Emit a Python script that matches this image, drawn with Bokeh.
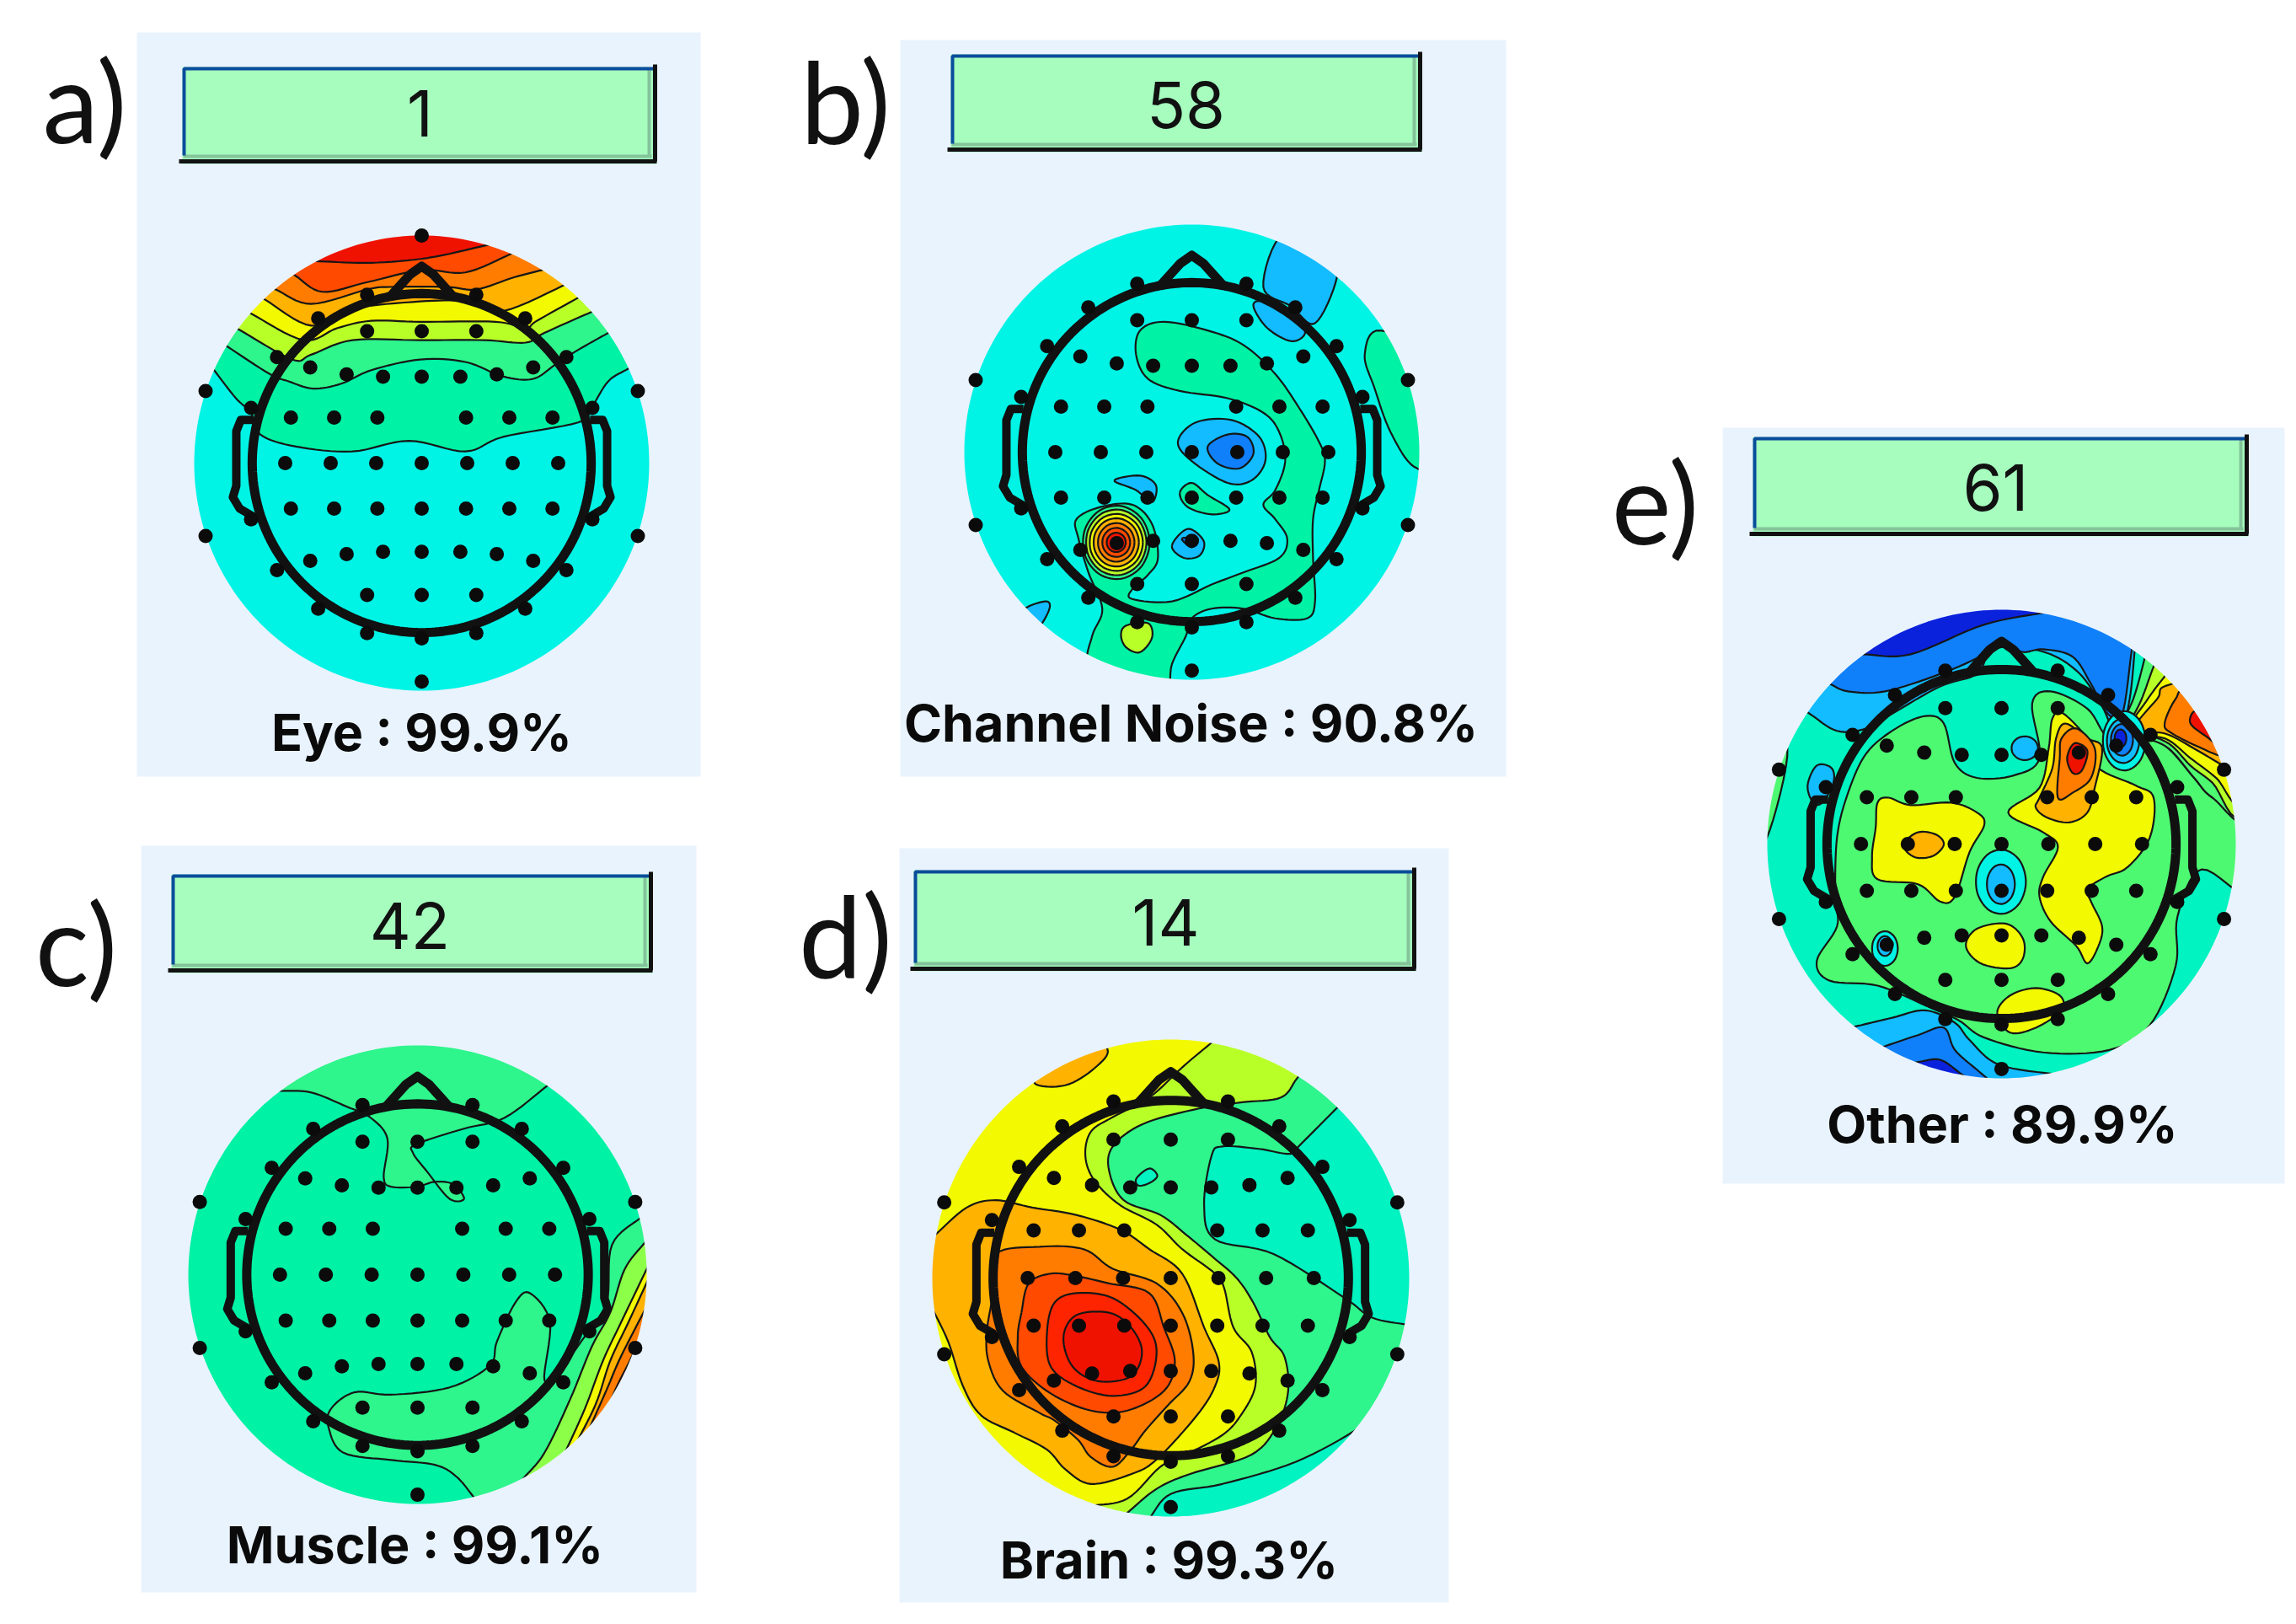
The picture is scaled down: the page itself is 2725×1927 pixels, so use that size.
import numpy as np
from bokeh.embed import file_html
from bokeh.models import Label, Range1d
from bokeh.plotting import figure
from bokeh.resources import INLINE

LETTERS = ["a)", "b)", "c)", "d)", "e)"]
COMPONENTS = ["1", "58", "42", "14", "61"]
CLASSES = ["Eye", "Channel Noise", "Muscle", "Brain", "Other"]
PERCENTS = [99.9, 90.8, 99.1, 99.3, 89.9]

COL = dict(db="#0a22dc", b2="#0a55ee", b="#0f80fa", sb="#12bcff", c="#00f4e6", c2="#00f3c0",
           ag="#00f2a4", g="#2ef58c", g3="#4ef972", lg="#8cff48", l="#b8ff28", y="#f2f900",
           o="#ffb200", do="#ff7c00", ro="#ff4a00", r2="#ff2400", r="#f01200", dr="#a80000")

# geometry: panel box, map centre and radius, button box, number and label anchors, reading frame
PANEL_BOX = [(162, 831, 38, 921), (1068, 1787, 47, 921), (167, 826, 1003, 1889), (1067, 1719, 1006, 1901), (2044, 2711, 507, 1404)]
MAP_C = [(500, 549, 270), (1414, 536, 270), (495, 1512, 272), (1389, 1516, 283), (2375, 1001, 278)]
BTN_BOX = [(216, 779, 79, 194), (1128, 1687, 64, 180), (203, 774, 1037, 1154), (1084, 1680, 1032, 1152), (2080, 2668, 518, 636)]
NUM_XY = [(498, 134), (1407, 124), (486, 1098), (1383, 1094), (2368, 578)]
LBL_XY = [(500, 868), (1413, 857), (492, 1832), (1387, 1850), (2376, 1333)]
LET_XY = [(100, 118), (1003, 118), (90, 1118), (1003, 1108), (1964, 594)]
FRAME = [(150, 30, 2.24, 1.742), (1060, 30, 2.119, 1.742), (160, 1000, 2.306, 1.742), (1060, 1000, 2.306, 1.723), (2040, 500, 2.289, 1.704)]

# electrodes, in map radii
ELEC_X = [-.95, .95, -.95, .95, 0, -.24, .24, -.455, .455, -.636, .636, -.75, .75, -.75, .75, -.636, .636, -.455, .455, -.24, .24, 0,
          -.24, 0, .24, -.49, -.33, -.17, 0, .17, .33, .49, -.575, -.385, -.195, .195, .385, .575,
          -.60, -.40, -.20, 0, .20, .40, .60, -.575, -.385, -.195, 0, .195, .385, .575,
          -.49, -.33, -.17, 0, .17, .33, .49, -.24, 0, .24]
ELEC_Y = [.317, .317, -.32, -.32, -.96, .74, .74, .636, .636, .466, .466, .243, .243, -.247, -.247, -.47, -.47, -.64, -.64, -.747, -.747, -.77,
          .58, .58, .58, .42, .39, .38, .38, .38, .39, .42, .20, .20, .20, .20, .20, .20,
          0, 0, 0, 0, 0, 0, 0, -.20, -.20, -.20, -.20, -.20, -.20, -.20,
          -.43, -.40, -.39, -.39, -.39, -.40, -.43, -.58, -.58, -.58]
NOSE_X = [-.14, -.05, 0, .05, .14]
NOSE_Y = [.73, .83, .865, .83, .73]
EAR_X = [.74, .795, .815, .815, .83, .80, .74]
EAR_Y = [.19, .19, .14, -.10, -.15, -.20, -.235]
HEAD_R = .745

T = [(5000, -5000), (-5000, -5000)]
B = [(5000, 5000), (-5000, 5000)]


def ell(cx, cy, rx, ry):
    return [(cx + rx * np.cos(a), cy + ry * np.sin(a)) for a in np.linspace(0, 2 * np.pi, 10)[:-1]]


# contour bands: (colour, outline, closure outside the map or None)
BASE = ["c", "c", "ag", "g", "c2"]
REG_A = [
    ("ag", [(232, 712), (290, 770), (330, 800), (355, 845), (450, 870), (600, 880), (750, 858), (900, 880), (1000, 850), (1200, 820), (1235, 790), (1280, 735), (1335, 708)], T),
    ("g", [(265, 662), (380, 720), (430, 735), (495, 750), (570, 740), (650, 712), (780, 690), (900, 695), (1000, 725), (1080, 730), (1140, 700), (1200, 670), (1280, 635)], T),
    ("l", [(298, 628), (440, 690), (490, 680), (600, 650), (780, 650), (950, 650), (1060, 655), (1110, 635), (1240, 590)], T),
    ("y", [(330, 595), (470, 650), (560, 625), (650, 610), (780, 612), (980, 612), (1060, 625), (1090, 610), (1205, 560)], T),
    ("o", [(365, 565), (490, 620), (600, 585), (780, 570), (900, 570), (1000, 590), (1180, 530)], T),
    ("do", [(395, 545), (490, 575), (640, 545), (700, 540), (850, 540), (930, 545), (1030, 520), (1130, 500)], T),
    ("ro", [(445, 515), (520, 550), (640, 530), (785, 505), (900, 510), (1020, 472), (1075, 450)], T),
    ("r", [(515, 487), (650, 490), (800, 480), (950, 455)], T),
]
REG_B = [
    ("sb", [(980, 430), (930, 540), (1000, 580), (1060, 615), (1115, 520), (1100, 450)], None),
    ("sb", [(905, 580), (930, 570), (1010, 600), (1035, 635), (1000, 652), (940, 625)], None),
    ("ag", [(1225, 630), (1185, 680), (1210, 750), (1250, 840), (1310, 912), (1380, 900), (1380, 700)], None),
    ("ag", [(610, 680), (620, 630), (680, 612), (790, 630), (880, 660), (960, 720), (1020, 790), (1070, 860), (1085, 900), (1070, 960), (1055, 1020), (1055, 1100), (1060, 1190), (1040, 1225), (960, 1225), (880, 1205), (800, 1205), (750, 1225), (735, 1262), (700, 1320), (680, 1390), (560, 1360), (490, 1320), (500, 1260), (525, 1205), (490, 1130), (465, 1060), (460, 1020), (520, 995), (600, 990), (650, 1030), (665, 1100), (640, 1135), (600, 1165), (600, 1185), (700, 1190), (800, 1155), (880, 1130), (970, 1100), (990, 1060), (960, 1020), (930, 990), (960, 960), (985, 900), (970, 840), (930, 800), (840, 770), (720, 755), (640, 730)], None),
    ("l", [(585, 1240), (640, 1235), (650, 1265), (620, 1295), (585, 1285), (572, 1260)], None),
    ("ag", [(720, 965), (750, 945), (790, 970), (845, 1000), (800, 1010), (740, 995)], None),
    ("sb", [(715, 860), (760, 820), (850, 815), (920, 850), (935, 900), (900, 940), (840, 945), (750, 900)], None),
    ("b", [(790, 870), (840, 845), (890, 850), (905, 885), (870, 915), (815, 905)], None),
    ("sb", [(555, 940), (620, 930), (660, 950), (650, 985), (610, 960)], None),
    ("sb", [(700, 1075), (740, 1040), (780, 1065), (770, 1095), (730, 1100)], None),
    ("b", [(725, 1060), (765, 1060), (750, 1078)], None),
    ("sb", [(330, 1205), (385, 1190), (390, 1210), (355, 1250), (300, 1240)], None),
    ("g", ell(560, 1068, 84, 76), None),
    ("l", ell(560, 1068, 76, 68), None),
    ("y", ell(560, 1068, 67, 59), None),
    ("o", ell(560, 1068, 57, 50), None),
    ("do", ell(560, 1068, 46, 40), None),
    ("ro", ell(560, 1068, 35, 30), None),
    ("r", ell(560, 1068, 24, 20), None),
    ("dr", ell(560, 1068, 12, 10), None),
]
BR = [(3000, 3000)]
REG_C = [
    ("g", [(385, 512), (480, 515), (580, 545), (640, 565), (690, 610), (680, 690), (700, 710), (770, 710), (820, 700), (870, 705), (900, 735), (860, 735), (800, 680), (760, 640), (770, 622), (900, 590), (1010, 568), (1130, 500)], T),
    ("g", [(930, 1355), (880, 1310), (820, 1285), (700, 1275), (570, 1260), (530, 1210), (535, 1170), (600, 1135), (700, 1140), (860, 1125), (970, 1080), (990, 1030), (1040, 950), (1080, 930), (1135, 990), (1120, 1110), (1170, 1080), (1230, 1020), (1290, 950), (1305, 830), (1390, 770)], [(3000, 770), (3000, 3000), (930, 3000)]),
    ("lg", [(1060, 1315), (1120, 1260), (1190, 1150), (1250, 1040), (1300, 970), (1340, 880), (1395, 825)], BR),
    ("y", [(1170, 1270), (1230, 1170), (1280, 1070), (1330, 990), (1400, 880)], BR),
    ("o", [(1200, 1250), (1260, 1160), (1300, 1070), (1350, 990), (1405, 900)], BR),
    ("do", [(1240, 1215), (1290, 1130), (1330, 1060), (1405, 950)], BR),
    ("ro", [(1280, 1190), (1320, 1120), (1360, 1060), (1405, 980)], BR),
    ("r", [(1340, 1110), (1370, 1060), (1400, 1010)], BR),
]
REG_D = [
    ("l", [(1105, 480), (1060, 520), (950, 530), (820, 545), (680, 575), (600, 620), (590, 670), (630, 730), (730, 760), (800, 800), (880, 850), (940, 890), (985, 940), (1030, 1010), (1070, 1050), (1080, 1120), (1050, 1190), (980, 1250), (810, 1290), (720, 1320), (635, 1372)], [(-3000, 3000), (-3000, -3000), (1200, -3000)]),
    ("y", [(875, 405), (795, 455), (700, 520), (600, 560), (540, 590), (525, 640), (550, 690), (620, 740), (720, 780), (790, 830), (880, 880), (905, 910), (930, 990), (980, 1040), (990, 1110), (950, 1170), (900, 1210), (800, 1250), (730, 1275), (640, 1340), (540, 1355)], [(-3000, 3000), (-3000, -3000), (875, -3000)]),
    ("o", [(385, 490), (470, 495), (550, 460), (585, 420), (500, 380), (420, 440)], None),
    ("o", [(108, 805), (200, 745), (280, 730), (380, 745), (500, 760), (620, 790), (700, 830), (790, 880), (850, 990), (890, 1060), (880, 1110), (830, 1170), (720, 1260), (650, 1290), (540, 1310), (470, 1280), (420, 1240), (330, 1205), (240, 1170), (190, 1110), (150, 1020), (105, 950)], [(-3000, 950), (-3000, 805)]),
    ("do", [(280, 840), (400, 825), (520, 830), (600, 870), (720, 900), (790, 960), (820, 1040), (810, 1100), (750, 1150), (690, 1200), (650, 1240), (600, 1275), (540, 1255), (505, 1220), (440, 1180), (400, 1165), (300, 1120), (260, 1060), (255, 1000), (272, 920)], None),
    ("ro", [(350, 960), (370, 900), (430, 880), (500, 885), (590, 900), (700, 920), (740, 990), (770, 1060), (740, 1120), (640, 1160), (540, 1160), (430, 1125), (350, 1070), (340, 1010)], None),
    ("r2", [(420, 1000), (440, 940), (500, 920), (600, 930), (690, 985), (720, 1040), (690, 1110), (600, 1130), (500, 1110), (430, 1070)], None),
    ("r", [(465, 1010), (500, 965), (590, 960), (650, 990), (680, 1040), (650, 1090), (560, 1100), (490, 1070)], None),
    ("c2", [(665, 685), (700, 665), (722, 680), (700, 695), (670, 700)], None),
    ("c2", [(1215, 540), (1115, 615), (1085, 635), (1000, 625), (900, 620), (870, 640), (850, 740), (880, 810), (1040, 840), (1235, 930), (1310, 970), (1410, 985)], [(3000, 985), (3000, -3000), (1400, -3000)]),
    ("c2", [(700, 1380), (760, 1330), (900, 1310), (1100, 1265), (1275, 1195), (1330, 1150)], [(3000, 1150), (3000, 3000), (700, 3000)]),
]
REG_E = [
    ("g3", [(640, 690), (610, 610), (560, 595), (480, 620), (400, 670), (350, 750), (320, 840), (315, 960), (320, 1020), (265, 1090), (300, 1130), (430, 1140), (560, 1180), (650, 1210), (720, 1245), (880, 1275), (1060, 1270), (1170, 1220), (1240, 1100), (1245, 1000), (1310, 905), (1450, 960), (1450, 800), (1340, 760), (1290, 720), (1220, 660), (1150, 630), (1060, 640), (1000, 580), (900, 545), (850, 570), (870, 680), (800, 715), (700, 720)], None),
    ("g3", [(130, 840), (185, 660), (100, 640), (80, 840)], None),
    ("sb", [(240, 735), (265, 695), (305, 700), (310, 730), (280, 770), (255, 770)], None),
    ("sb", [(245, 590), (320, 625), (400, 620), (470, 590), (600, 535), (700, 510), (735, 465), (800, 455), (900, 470), (980, 510), (1040, 575), (1085, 640), (1115, 560), (1130, 450)], T),
    ("b", [(300, 530), (350, 545), (450, 545), (600, 510), (720, 470), (760, 440), (820, 465), (880, 460), (960, 475), (1010, 530), (1055, 590), (1095, 590), (1120, 465)], T),
    ("db", [(390, 470), (520, 470), (720, 410), (890, 385)], T),
    ("g3", [(1080, 640), (1125, 560), (1155, 480), (1165, 440), (1500, 500), (1450, 800), (1340, 760), (1290, 720), (1220, 660), (1150, 640)], None),
    ("l", [(1095, 640), (1145, 565), (1180, 495), (1200, 470), (1500, 500), (1420, 790), (1340, 730), (1280, 695), (1220, 650), (1140, 630)], None),
    ("y", [(1110, 630), (1160, 565), (1210, 515), (1240, 490), (1500, 600), (1420, 770), (1350, 720), (1280, 680), (1210, 640)], None),
    ("o", [(1125, 625), (1190, 560), (1230, 530), (1500, 500), (1500, 750), (1380, 700), (1300, 665), (1210, 630)], None),
    ("do", [(1210, 610), (1240, 560), (1280, 540), (1500, 540), (1500, 700), (1380, 680), (1310, 660), (1230, 630)], None),
    ("r", [(1280, 610), (1295, 585), (1340, 620), (1365, 660), (1330, 640)], None),
    ("c", ell(1100, 645, 58, 60), None),
    ("sb", ell(1097, 645, 44, 45), None),
    ("b", ell(1094, 643, 30, 32), None),
    ("db", ell(1090, 640, 16, 18), None),
    ("sb", ell(830, 660, 36, 24), None),
    ("y", [(430, 770), (460, 760), (520, 775), (630, 770), (700, 790), (720, 815), (680, 870), (640, 960), (600, 970), (540, 935), (430, 925), (415, 880), (425, 820)], None),
    ("o", [(500, 855), (540, 830), (590, 835), (610, 855), (580, 878), (530, 880)], None),
    ("y", [(905, 600), (935, 590), (1010, 650), (1030, 700), (1130, 735), (1180, 760), (1170, 840), (1110, 900), (1050, 920), (1000, 945), (1010, 970), (1040, 1020), (1030, 1060), (1000, 1095), (970, 1060), (900, 1010), (870, 960), (880, 920), (920, 860), (880, 830), (785, 790), (870, 740), (895, 660)], None),
    ("o", [(870, 760), (905, 700), (915, 640), (940, 610), (1000, 640), (1040, 660), (1020, 740), (1000, 790), (950, 810), (890, 800), (860, 780)], None),
    ("do", [(920, 760), (925, 680), (930, 640), (970, 620), (1020, 660), (1010, 720), (960, 750)], None),
    ("r", [(945, 680), (965, 650), (1000, 665), (985, 705), (960, 710)], None),
    ("c", ell(765, 930, 68, 65), None),
    ("sb", ell(765, 935, 38, 40), None),
    ("y", [(670, 1060), (700, 1025), (780, 1015), (825, 1045), (825, 1085), (790, 1105), (710, 1095)], None),
    ("y", [(755, 1195), (790, 1160), (860, 1145), (925, 1160), (930, 1190), (860, 1225), (790, 1235)], None),
    ("c", ell(450, 1065, 35, 35), None),
    ("sb", ell(450, 1060, 20, 20), None),
    ("sb", [(385, 1220), (470, 1205), (560, 1190), (640, 1215), (680, 1250), (760, 1300), (920, 1320)], B),
    ("b", [(440, 1265), (540, 1240), (610, 1225), (640, 1270), (700, 1310), (740, 1335)], B),
    ("db", [(535, 1295), (600, 1290), (660, 1320)], B),
]
REGIONS = [REG_A, REG_B, REG_C, REG_D, REG_E]

BG = "#e9f3fd"
BTN = "#a6fdbe"


def catmull(pts, closed):
    P = np.array(pts, float)
    if closed:
        P = np.vstack([P[-1], P, P[0], P[1]])
    else:
        a = P[0] + (P[0] - P[1]) / max(np.hypot(*(P[0] - P[1])), 1) * 70
        b = P[-1] + (P[-1] - P[-2]) / max(np.hypot(*(P[-1] - P[-2])), 1) * 70
        P = np.vstack([2 * a - P[0], a, P, b, 2 * b - P[-1]])
    out = []
    for i in range(1, len(P) - 2):
        p0, p1, p2, p3 = P[i - 1], P[i], P[i + 1], P[i + 2]
        for t in np.linspace(0, 1, 8, endpoint=False):
            out.append(.5 * (2 * p1 + (p2 - p0) * t + (2 * p0 - 5 * p1 + 4 * p2 - p3) * t ** 2 + (3 * p1 - p0 - 3 * p2 + p3) * t ** 3))
    out.append(P[-2])
    return np.array(out)


p = figure(width=2715, height=1911, x_range=Range1d(0, 2715), y_range=Range1d(1911, 0),
           output_backend="svg", toolbar_location=None, min_border=0,
           background_fill_color="white", border_fill_color="white")
p.axis.visible = False
p.grid.visible = False
p.outline_line_color = None

for i in range(5):
    x0, x1, y0, y1 = PANEL_BOX[i]
    p.quad(left=[x0], right=[x1], top=[y0], bottom=[y1], fill_color=BG, line_color=None)
    cx, cy, r = MAP_C[i]
    ox, oy, sx, sy = FRAME[i]
    m = r + 6
    p.quad(left=[cx - m], right=[cx + m], top=[cy - m], bottom=[cy + m], fill_color=COL[BASE[i]], line_color=None)
    for colour, pts, far in REGIONS[i]:
        c = catmull(pts, far is None)
        fx = np.clip(c[:, 0] / sx + ox, cx - m, cx + m)
        fy = np.clip(c[:, 1] / sy + oy, cy - m, cy + m)
        lx, ly = fx, fy
        if far is not None:
            e = np.array(far, float)
            fx = np.r_[fx, np.clip(e[:, 0] / sx + ox, cx - m, cx + m)]
            fy = np.r_[fy, np.clip(e[:, 1] / sy + oy, cy - m, cy + m)]
        p.patch(fx, fy, fill_color=COL[colour], line_color=None)
        p.line(lx, ly, line_color="#161616", line_width=2.2)
    # everything outside the round map is hidden by a panel-coloured frame with a round hole
    a = np.linspace(0, 2 * np.pi, 240, endpoint=False)
    M = m + 8
    p.multi_polygons(xs=[[[[cx - M, cx + M, cx + M, cx - M], list(cx + r * np.cos(a))]]],
                     ys=[[[[cy - M, cy - M, cy + M, cy + M], list(cy + r * np.sin(a))]]],
                     fill_color=BG, line_color=None)
    # head outline
    p.line(np.r_[cx + HEAD_R * r * np.cos(a), cx + HEAD_R * r], np.r_[cy + HEAD_R * r * np.sin(a), cy],
           line_color="#111111", line_width=11)
    p.line(cx + r * np.array(NOSE_X), cy - r * np.array(NOSE_Y), line_color="#111111", line_width=11, line_join="round")
    for side in (-1, 1):
        p.line(cx + side * r * np.array(EAR_X), cy - r * np.array(EAR_Y), line_color="#111111", line_width=10, line_join="round")
    ex = list(ELEC_X) + ([0.0] if i == 0 else [])
    ey = list(ELEC_Y) + ([1.0] if i == 0 else [])
    p.scatter(cx + r * np.array(ex), cy - r * np.array(ey), size=17, marker="circle", fill_color="#0b0b0b", line_color=None)
    # button
    bx0, bx1, by0, by1 = BTN_BOX[i]
    p.quad(left=[bx0], right=[bx1], top=[by0], bottom=[by1], fill_color=BTN, line_color=None)
    p.line([bx0 + 1, bx1 - 6], [by1 - 9, by1 - 9], line_color="#84c49a", line_width=4)
    p.line([bx1 - 9, bx1 - 9], [by0 + 3, by1 - 9], line_color="#84c49a", line_width=4)
    p.line([bx0 + 2, bx0 + 2, bx1 - 4], [by1 - 10, by0 + 2, by0 + 2], line_color="#0a4c9c", line_width=4)
    p.line([bx1 - 2, bx1 - 2], [by0 - 3, by1 - 3], line_color="#111111", line_width=5)
    p.line([bx0 - 4, bx1], [by1 - 3, by1 - 3], line_color="#111111", line_width=5)

# texts as annotations, each carrying its own font
for i in range(5):
    p.add_layout(Label(x=LET_XY[i][0], y=LET_XY[i][1], text=LETTERS[i], text_font="Lato", text_font_size="134px",
                       text_align="center", text_baseline="middle", text_color="#111111"))
for i in range(5):
    p.add_layout(Label(x=NUM_XY[i][0], y=NUM_XY[i][1], text=COMPONENTS[i], text_font="Inter", text_font_size="76px",
                       text_align="center", text_baseline="middle", text_color="#111111"))
    p.add_layout(Label(x=LBL_XY[i][0], y=LBL_XY[i][1], text=f"{CLASSES[i]} : {PERCENTS[i]}%", text_font="Inter",
                       text_font_style="bold", text_font_size="61px",
                       text_align="center", text_baseline="middle", text_color="#0a0a0a"))

open("out.html", "w").write(file_html(p, INLINE))
